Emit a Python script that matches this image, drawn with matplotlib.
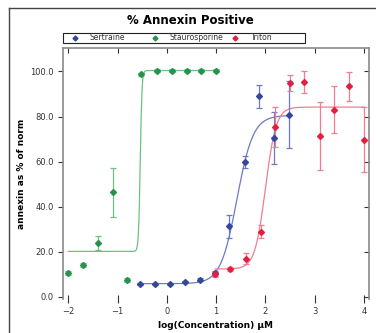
import numpy as np
import matplotlib
matplotlib.use("Agg")
import matplotlib.pyplot as plt
from matplotlib.lines import Line2D
from matplotlib.patches import Rectangle

# measured points (log concentration, % annexin, error)
stauro_x = [-2.0, -1.7, -1.4, -1.1, -0.8, -0.52, -0.2, 0.1, 0.4, 0.7, 1.0]
stauro_y = [10.7, 14.2, 24.0, 46.4, 7.6, 98.7, 100.4, 100.4, 100.4, 100.4, 100.4]
stauro_err = [1.0, 1.0, 3.2, 10.8, 0.8, 0.5, 0.5, 0.5, 0.5, 0.5, 0.5]

sert_x = [-0.54, -0.24, 0.07, 0.37, 0.68, 0.98, 1.27, 1.58, 1.87, 2.18, 2.47]
sert_y = [5.8, 5.9, 5.9, 6.8, 7.6, 10.5, 31.3, 59.9, 89.0, 70.5, 80.9]
sert_err = [0.5, 0.5, 0.5, 0.5, 0.6, 1.0, 5.0, 2.5, 5.0, 11.5, 15.0]

trit_x = [0.98, 1.29, 1.6, 1.9, 2.2, 2.49, 2.79, 3.1, 3.4, 3.7, 4.0]
trit_y = [10.0, 12.3, 16.9, 29.0, 75.3, 95.0, 95.3, 71.3, 83.1, 93.5, 69.8]
trit_err = [1.0, 1.0, 2.5, 3.0, 9.0, 3.5, 5.0, 15.0, 10.4, 6.4, 14.6]

# sigmoid fit parameters: bottom, top, logEC50, hill
sert_fit = (5.9, 80.5, 1.42, 2.63)
stauro_fit = (20.2, 100.4, -0.54, 25.0)
trit_fit = (12.4, 84.2, 2.0, 4.0)

labels = ["Sertraine", "Staurosporine", "Triton"]
colores = ["#34479c", "#26934a", "#e0203f"]
curva_col = ["#6d7ac4", "#6cc283", "#f27d92"]
xticks = [-2, -1, 0, 1, 2, 3, 4]
yticks = [0, 20, 40, 60, 80, 100]
ytick_lab = ["0.0", "20.0", "40.0", "60.0", "80.0", "100.0"]


def sigmoide(x, p):
    b, t, ec, h = p
    return b + (t - b) / (1 + 10 ** ((ec - x) * h))


fig = plt.figure(figsize=(3.76, 3.33), dpi=100)
W, H = 376, 333
ax = fig.add_axes([63 / W, 1 - 299 / H, (369 - 63) / W, (299 - 48) / H])

series = [
    (sert_x, sert_y, sert_err, sert_fit),
    (stauro_x, stauro_y, stauro_err, stauro_fit),
    (trit_x, trit_y, trit_err, trit_fit),
]
for i, (xs, ys, es, fit) in enumerate(series):
    xx = np.linspace(min(xs), max(xs), 600)
    ax.plot(xx, sigmoide(xx, fit), color=curva_col[i], lw=0.9, zorder=2)
    ax.errorbar(xs, ys, yerr=es, fmt="none", ecolor=curva_col[i],
                elinewidth=0.9, capsize=2.5, capthick=0.9, zorder=3)
    ax.plot(xs, ys, ls="none", marker="D", ms=3, color=colores[i], zorder=4)

ax.set_xlim(-2.107, 4.1)
ax.set_ylim(-0.9, 110.4)
ax.set_xticks(xticks)
ax.set_yticks(yticks)
ax.set_yticklabels(ytick_lab)
ax.tick_params(axis="both", labelsize=6, colors="#333333", width=0.8)
ax.tick_params(axis="y", direction="out", length=3.5, pad=3)
ax.tick_params(axis="x", direction="inout", length=6, pad=3)
ax.spines["bottom"].set_visible(False)
for s in ["left", "right", "top"]:
    ax.spines[s].set_color("#8a8a8a")
    ax.spines[s].set_linewidth(1.2)

# ticks hacia dentro arriba y a la derecha
sx = ax.secondary_xaxis("top")
sx.set_xticks(xticks)
sx.tick_params(direction="in", length=3.5, width=0.8, colors="#333333", labeltop=False)
sx.spines["top"].set_visible(False)
sy = ax.secondary_yaxis("right")
sy.set_yticks(yticks)
sy.tick_params(direction="in", length=3.5, width=0.8, colors="#333333", labelright=False)
sy.spines["right"].set_visible(False)

ax.set_xlabel("log(Concentration) \u00b5M", fontsize=6.5, fontweight="bold", labelpad=3)
ax.set_ylabel("annexin as % of norm", fontsize=6.5, fontweight="bold", labelpad=3)

fig.text(190 / W, 1 - 20 / H, "% Annexin Positive", fontsize=8.5,
         fontweight="bold", ha="center", va="center")

# leyenda dibujada a mano
fig.add_artist(Rectangle((63 / W, 1 - 43 / H), (305 - 63) / W, 10 / H,
                         transform=fig.transFigure, fill=False,
                         edgecolor="#222222", lw=0.8))
mx = [75, 155, 235]
tx = [90, 170, 251]
for i in range(3):
    fig.add_artist(Line2D([mx[i] / W], [1 - 38 / H], ls="none", marker="D",
                          ms=2.5, color=colores[i], transform=fig.transFigure))
    fig.text(tx[i] / W, 1 - 38 / H, labels[i], fontsize=5.5, color="#333333",
             ha="left", va="center")

# marco exterior
fig.add_artist(Line2D([9 / W, 9 / W], [0, 1 - 8 / H], color="#444444", lw=1.0,
                      transform=fig.transFigure))
fig.add_artist(Line2D([9 / W, 1], [1 - 8 / H, 1 - 8 / H], color="#444444", lw=1.0,
                      transform=fig.transFigure))

fig.savefig("out.png", dpi=100)
